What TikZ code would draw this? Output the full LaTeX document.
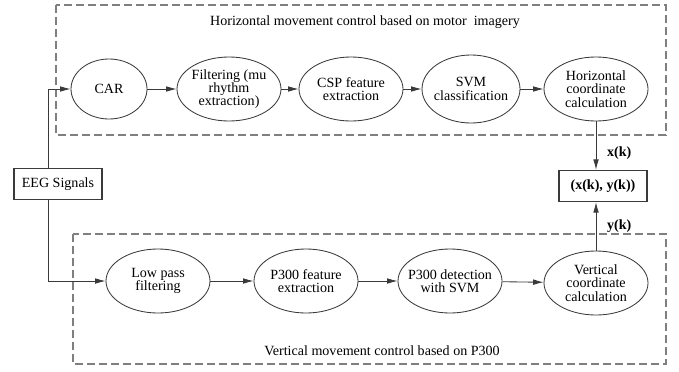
\documentclass[tikz,border=0pt]{standalone}
\usepackage{fontspec}
\setmainfont{Liberation Serif}
\usetikzlibrary{positioning, arrows.meta, shapes.geometric}
\definecolor{framegray}{HTML}{7F7F7F}
\definecolor{linegray}{HTML}{3A3A3A}

\begin{document}
\begin{tikzpicture}[x=0.25mm, y=-0.25mm,
  font=\fontsize{10}{9.5}\selectfont,
  proc/.style={ellipse, draw=linegray, line width=0.6pt, minimum width=26mm,
    minimum height=16mm, inner xsep=-2mm, inner ysep=0pt, align=center},
  sigbox/.style={rectangle, draw=linegray, line width=0.8pt, minimum width=22mm,
    minimum height=7.8mm, inner sep=1pt},
  link/.style={-{Latex[length=2.6mm, width=1.4mm]}, draw=linegray, line width=0.6pt},
  stagebox/.style={draw=framegray, dash pattern=on 2mm off 1mm, line width=0.8pt}]
  \useasboundingbox (0,0) rectangle (679,371);
  % Dashed frames
  \draw[stagebox] (56,5) rectangle (666,135);
  \draw[stagebox] (73,234) rectangle (666,364);
  \node (htitle) at (365,22) {Horizontal movement control based on motor\ \ imagery};
  \node (vtitle) at (382,351) {Vertical movement control based on P300};
  % Input and output
  \node[sigbox] (eeg) at (58,184) {EEG Signals};
  \node[sigbox, font=\bfseries] (res) at (603,186) {(x(k), y(k))};
  % Motor imagery branch
  \node[proc, minimum width=19mm, minimum height=15mm] (car) at (109,89) {CAR};
  \node[proc] (filt) at (229,89) {Filtering (mu\\rhythm\\extraction)};
  \node[proc] (csp) at (351,89) {CSP feature\\extraction};
  \node[proc, minimum width=24.5mm, minimum height=17mm] (svm) at (471,89) {SVM\\classification};
  \node[proc] (hor) at (596,89) {Horizontal\\coordinate\\calculation};
  % P300 branch
  \node[proc] (lowpass) at (158,281) {Low pass\\filtering};
  \node[proc] (p3feat) at (306,281) {P300 feature\\extraction};
  \node[proc] (p3det) at (450,281) {P300 detection\\with SVM};
  \node[proc] (vert) at (596,283) {Vertical\\coordinate\\calculation};
  % Connectors
  \draw[link] ([xshift=-2.3mm]eeg.north) |- (car);
  \draw[link] ([xshift=-2.3mm]eeg.south) |- (lowpass);
  \draw[link] (car) -- (filt);
  \draw[link] (filt) -- (csp);
  \draw[link] (csp) -- (svm);
  \draw[link] (svm) -- (hor);
  \draw[link] (lowpass) -- (p3feat);
  \draw[link] (p3feat) -- (p3det);
  \draw[link] (p3det) -- (vert);
  \draw[link] (hor) -- (hor |- res.north)
    node[pos=0.65, right=1.5mm, font=\bfseries] {x(k)};
  \draw[link] (vert) -- (vert |- res.south)
    node[pos=0.5, right=1.5mm, font=\bfseries] {y(k)};
\end{tikzpicture}
\end{document}
